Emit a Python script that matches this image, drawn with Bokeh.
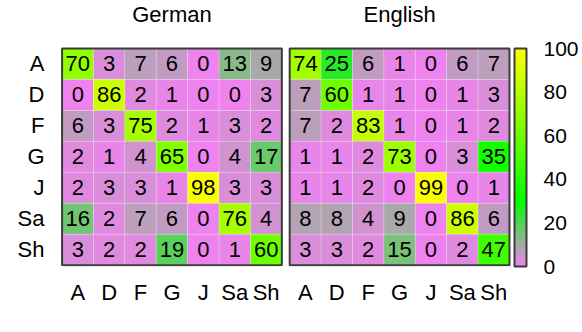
import numpy as np
from bokeh.plotting import figure
from bokeh.models import (ColumnDataSource, LinearColorMapper, ColorBar, FixedTicker, Range1d)
from bokeh.embed import file_html
from bokeh.resources import INLINE
from bokeh.core.properties import value

# ---- data ----
categories = ["A", "D", "F", "G", "J", "Sa", "Sh"]
panel_titles = ["German", "English"]
german = [
    [70, 3, 7, 6, 0, 13, 9],
    [0, 86, 2, 1, 0, 0, 3],
    [6, 3, 75, 2, 1, 3, 2],
    [2, 1, 4, 65, 0, 4, 17],
    [2, 3, 3, 1, 98, 3, 3],
    [16, 2, 7, 6, 0, 76, 4],
    [3, 2, 2, 19, 0, 1, 60],
]
english = [
    [74, 25, 6, 1, 0, 6, 7],
    [7, 60, 1, 1, 0, 1, 3],
    [7, 2, 83, 1, 0, 1, 2],
    [1, 1, 2, 73, 0, 3, 35],
    [1, 1, 2, 0, 99, 0, 1],
    [8, 8, 4, 9, 0, 86, 6],
    [3, 3, 2, 15, 0, 2, 47],
]
cbar_ticks = [0, 20, 40, 60, 80, 100]

# ---- colour map: violet -> gray -> green -> yellow ----
stop_pos = [0.0, 0.09, 0.30, 1.0]
stop_rgb = [(238, 130, 238), (169, 169, 169), (0, 255, 0), (255, 255, 0)]
palette = []
for tt in np.linspace(0, 1, 256):
    rgb = [int(round(np.interp(tt, stop_pos, [c[i] for c in stop_rgb]))) for i in range(3)]
    palette.append("#%02x%02x%02x" % tuple(rgb))
mapper = LinearColorMapper(palette=palette, low=0, high=100)

FONT = "Liberation Sans"
FS = "22px"
n = len(categories)
gap = 0.25
offsets = [0.0, n + gap]
ux, uy = 31.43, 31.0
pad_l, pad_r, pad_b = 0.05, 0.16, 0.04
top_extra = 48.0 / uy          # title strip above the matrices

x0, x1 = -pad_l, 2 * n + gap + pad_r
y0, y1 = -pad_b, n + top_extra
fw = int(round((x1 - x0) * ux))
fh = int(round((y1 - y0) * uy))

p = figure(frame_width=fw, frame_height=fh,
           x_range=Range1d(x0, x1), y_range=Range1d(y0, y1),
           output_backend="svg", toolbar_location=None,
           min_border_left=60, min_border_top=0, min_border_bottom=62, min_border_right=0)
p.xgrid.visible = False
p.ygrid.visible = False
p.outline_line_color = None

xs, ys, vals, txt = [], [], [], []
for off, mat in zip(offsets, [german, english]):
    for i, row in enumerate(mat):
        for j, v in enumerate(row):
            xs.append(off + j + 0.5)
            ys.append(n - i - 0.5)
            vals.append(v)
            txt.append(str(v))
src = ColumnDataSource(dict(x=xs, y=ys, v=vals, t=txt))
p.rect("x", "y", width=1, height=1, source=src,
       fill_color={"field": "v", "transform": mapper},
       line_color="white", line_alpha=0.2, line_width=1)
p.text("x", "y", text="t", source=src, text_align="center", text_baseline="middle",
       text_font=value(FONT), text_font_size=FS, text_color="black")

# panel outlines and titles
p.rect(x=[off + n / 2 for off in offsets], y=[n / 2] * 2, width=n, height=n,
       fill_alpha=0, line_color="#3c3c3c", line_width=2)
tsrc = ColumnDataSource(dict(x=[off + n / 2 for off in offsets],
                             y=[n + 34.0 / uy] * 2, t=panel_titles))
p.text("x", "y", text="t", source=tsrc, text_align="center", text_baseline="middle",
       text_font=value(FONT), text_font_size=FS, text_color="black")

# axes
xt = [off + j + 0.5 for off in offsets for j in range(n)]
p.xaxis.ticker = FixedTicker(ticks=xt)
p.xaxis.major_label_overrides = {t: categories[k % n] for k, t in enumerate(xt)}
yt = [n - i - 0.5 for i in range(n)]
p.yaxis.ticker = FixedTicker(ticks=yt)
p.yaxis.major_label_overrides = {t: categories[i] for i, t in enumerate(yt)}
for ax in (p.xaxis[0], p.yaxis[0]):
    ax.axis_line_color = None
    ax.major_tick_line_color = None
    ax.minor_tick_line_color = None
    ax.major_label_text_font = FONT
    ax.major_label_text_font_size = FS
    ax.major_label_text_color = "black"
p.xaxis.major_label_standoff = 7
p.yaxis.major_label_standoff = 10

cb = ColorBar(color_mapper=mapper, ticker=FixedTicker(ticks=cbar_ticks),
              width=12, height=int(round((n + pad_b) * uy)), location="bottom_left",
              margin=0, padding=0, label_standoff=17,
              major_tick_line_color=None, minor_tick_line_color=None,
              bar_line_color="#3c3c3c", bar_line_width=2,
              border_line_color=None, background_fill_color=None,
              major_label_text_font=FONT, major_label_text_font_size="21px",
              major_label_text_color="black")
p.add_layout(cb, "right")

open("out.html", "w").write(file_html(p, INLINE))
